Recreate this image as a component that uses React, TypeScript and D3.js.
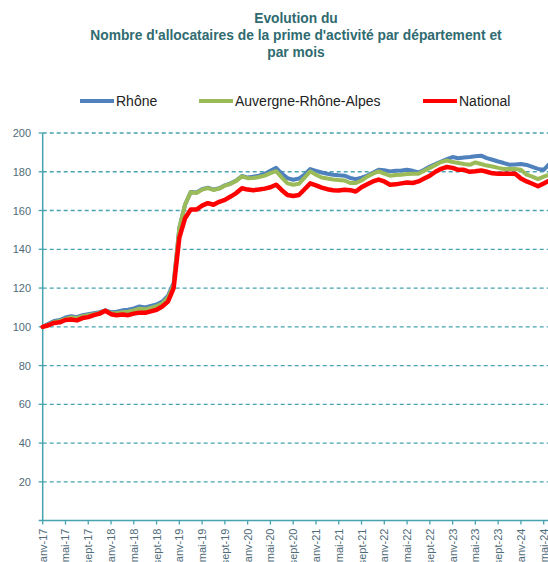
import React from "react";
import * as d3 from "d3";

const TITLE = [
  "Evolution du",
  "Nombre d'allocataires de la prime d'activité par département et",
  "par mois",
];

const SERIES_NAMES = ["Rhône", "Auvergne-Rhône-Alpes", "National"];
const SERIES_COLORS = ["#4F81BD", "#9BBB59", "#FF0000"];

// monthly index values, janv-17 onwards
const rhone = [
  100, 101.5, 103, 103.5, 104.8, 105.5, 105, 106, 106.5, 107, 107.5, 108.5,
  107.5, 107.8, 108.5, 108.8, 109.5, 110.5, 110, 110.8, 111.5, 113, 116, 122.5,
  151, 163, 169.5, 169.3, 171, 171.8, 170.8, 171.5, 173, 174, 175.5, 177.8,
  177, 177.5, 178, 179, 180.5, 182, 179, 176.7, 175.9, 176.5, 178.5, 181.4,
  180.5, 179.6, 179, 178.5, 178.2, 178, 176.8, 176.2, 177, 178, 179.5, 181,
  180.8, 180.2, 180.5, 180.7, 181, 180.5, 179.6, 181, 182.7, 184, 185.3, 186.5,
  187.6, 187, 187.3, 187.6, 188, 188.3, 187, 186.2, 185.3, 184.5, 183.6, 183.8,
  184, 183.5, 182.5, 181.5, 181, 184,
];
const aura = [
  100, 101, 102.5, 103, 104, 104.8, 104.5, 105.5, 106, 106.5, 107.2, 108.4,
  107, 107, 107.5, 107.8, 108.5, 109.3, 109, 109.8, 110.6, 112, 115, 121.5,
  151, 163, 169.5, 169, 170.8, 171.6, 170.6, 171.3, 172.8, 173.8, 175.3, 177.6,
  176.7, 176.8, 177.3, 178, 179.3, 180.3, 177, 174, 173.3, 173.8, 177, 180.2,
  178.5, 177, 176.5, 176, 175.7, 175.5, 174.2, 174.2, 175.5, 177.5, 179, 180.2,
  179, 178, 178.3, 178.5, 178.8, 179, 179, 180.5, 182, 183.5, 185, 185.8,
  185, 184.5, 184, 183.6, 184.8, 184, 183.2, 182.7, 182, 181.4, 181.4, 181.4,
  181, 178.5, 177.5, 176.2, 177.5, 178.5,
];
const national = [
  100, 100.8, 102, 102.3, 103.5, 103.8, 103.3, 104.5, 105, 106, 106.8, 108.3,
  106.5, 106, 106.3, 106, 106.8, 107.3, 107.2, 108, 108.8, 110.5, 113, 120,
  146, 156, 160.5, 160.5, 162.5, 163.8, 163, 164.5, 165.5, 167.2, 169, 171.5,
  170.8, 170.5, 170.8, 171.3, 172, 173.3, 170.5, 168, 167.5, 168, 171, 174,
  173, 171.8, 171, 170.5, 170.3, 170.7, 170.5, 169.8, 172, 173.6, 175, 176,
  175, 173.3, 173.5, 174, 174.5, 174.2, 175, 176.5, 178, 180, 181.5, 182.5,
  182, 181, 181, 180, 180.3, 180.7, 180, 179.2, 179, 179, 179, 179,
  176.5, 175, 173.8, 172.5, 174, 175.5,
];

const Y_TICKS = [20, 40, 60, 80, 100, 120, 140, 160, 180, 200];
const X_TICK_LABELS = [
  "janv-17", "mai-17", "sept-17", "janv-18", "mai-18", "sept-18",
  "janv-19", "mai-19", "sept-19", "janv-20", "mai-20", "sept-20",
  "janv-21", "mai-21", "sept-21", "janv-22", "mai-22", "sept-22",
  "janv-23", "mai-23", "sept-23", "janv-24", "mai-24",
];

const W = 548;
const H = 562;
const TEAL = "#46A3AF";
const LABEL = "#4F6B78";
const FONT = "'Liberation Sans', Arial, sans-serif";

export default function App() {
  const x = d3.scaleLinear().domain([0, 88]).range([42.7, 543.7]);
  const y = d3.scaleLinear().domain([0, 200]).range([520.6, 133]);
  const line = d3
    .line<number>()
    .x((_, i) => x(i))
    .y((d) => y(d));
  const data = [rhone, aura, national];
  const widths = [4, 4, 4.5];
  const legendPos = [
    { x1: 80, x2: 114 },
    { x1: 199, x2: 233 },
    { x1: 423, x2: 457 },
  ];

  return (
    <div style={{ position: "absolute", left: 0, top: 0 }}>
      <svg width={W} height={H} style={{ display: "block", background: "#fff" }}>
        {TITLE.map((t, i) => (
          <text
            key={i}
            x={296}
            y={23 + i * 17}
            textAnchor="middle"
            fontFamily={FONT}
            fontWeight="bold"
            fontSize={13.8}
            fill="#2F6B70"
          >
            {t}
          </text>
        ))}

        {SERIES_NAMES.map((n, i) => (
          <g key={n}>
            <line
              x1={legendPos[i].x1}
              x2={legendPos[i].x2}
              y1={101}
              y2={101}
              stroke={SERIES_COLORS[i]}
              strokeWidth={4}
            />
            <text
              x={legendPos[i].x2 + 2}
              y={106}
              fontFamily={FONT}
              fontSize={14}
              fill="#222"
            >
              {n}
            </text>
          </g>
        ))}

        {Y_TICKS.map((t) => (
          <g key={t}>
            <line
              x1={x(0)}
              x2={W}
              y1={y(t)}
              y2={y(t)}
              stroke={TEAL}
              strokeWidth={1.3}
              strokeDasharray="4,3"
            />
            <line x1={x(0) - 4} x2={x(0)} y1={y(t)} y2={y(t)} stroke={TEAL} strokeWidth={1.3} />
            <text
              x={31}
              y={y(t) + 4}
              textAnchor="end"
              fontFamily={FONT}
              fontSize={11}
              fill={LABEL}
            >
              {t}
            </text>
          </g>
        ))}

        <line x1={x(0)} x2={x(0)} y1={y(200)} y2={y(0)} stroke={TEAL} strokeWidth={1.5} />
        <line x1={x(0) - 4} x2={W} y1={y(0)} y2={y(0)} stroke={TEAL} strokeWidth={1.5} />

        {X_TICK_LABELS.map((l, i) => {
          const px = x(i * 4);
          return (
            <g key={l}>
              <line x1={px} x2={px} y1={y(0)} y2={y(0) + 4} stroke={TEAL} strokeWidth={1.3} />
              <text
                transform={`translate(${px + 4},${y(0) + 8}) rotate(-90)`}
                textAnchor="end"
                fontFamily={FONT}
                fontSize={11}
                fill={LABEL}
              >
                {l}
              </text>
            </g>
          );
        })}

        {data.map((d, i) => (
          <path
            key={i}
            d={line(d) || ""}
            fill="none"
            stroke={SERIES_COLORS[i]}
            strokeWidth={widths[i]}
            strokeLinejoin="round"
            strokeLinecap="round"
          />
        ))}
      </svg>
    </div>
  );
}
